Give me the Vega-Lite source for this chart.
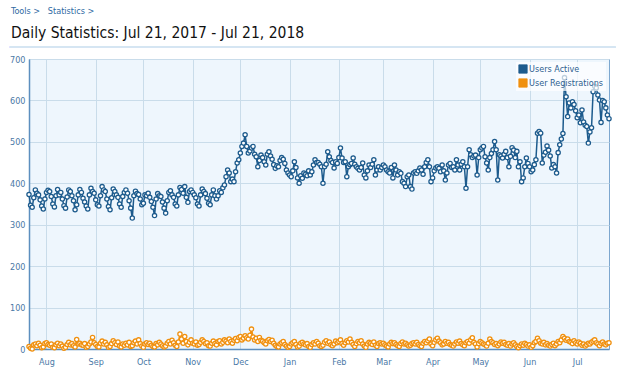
{
"$schema":"https://vega.github.io/schema/vega-lite/v6.json",
"width":580,"height":290,
"autosize":{"type":"none"},
"padding":{"left":29,"top":59,"right":20,"bottom":22},
"background":"#ffffff",
"config":{"view":{"fill":"#eef6fd","stroke":"#7da7cf","strokeWidth":1},"font":"Liberation Sans"},
"title":{"text":"Tools >\u00a0\u00a0 Statistics >","subtitle":"Daily Statistics: Jul 21, 2017 - Jul 21, 2018","anchor":"start","frame":"group","dx":-18,"offset":5,"fontSize":9,"fontWeight":"normal","color":"#2f6aa3","font":"DejaVu Sans Condensed, Liberation Sans","subtitleFont":"DejaVu Sans Condensed, Liberation Sans","subtitleFontSize":15.5,"subtitleColor":"#111111","subtitlePadding":10},
"data":{"values":[
{"d":"2017-07-21","a":373,"r":6},{"d":"2017-07-22","a":347,"r":2},{"d":"2017-07-23","a":342,"r":0},{"d":"2017-07-24","a":365,"r":10},{"d":"2017-07-25","a":384,"r":12},{"d":"2017-07-26","a":376,"r":8},{"d":"2017-07-27","a":372,"r":14},{"d":"2017-07-28","a":360,"r":9},{"d":"2017-07-29","a":345,"r":3},{"d":"2017-07-30","a":338,"r":5},{"d":"2017-07-31","a":362,"r":13},
{"d":"2017-08-01","a":378,"r":15},{"d":"2017-08-02","a":383,"r":11},{"d":"2017-08-03","a":380,"r":9},{"d":"2017-08-04","a":368,"r":12},{"d":"2017-08-05","a":350,"r":4},{"d":"2017-08-06","a":343,"r":3},{"d":"2017-08-07","a":370,"r":10},{"d":"2017-08-08","a":385,"r":14},{"d":"2017-08-09","a":372,"r":8},{"d":"2017-08-10","a":378,"r":12},{"d":"2017-08-11","a":362,"r":7},{"d":"2017-08-12","a":346,"r":2},{"d":"2017-08-13","a":340,"r":4},{"d":"2017-08-14","a":367,"r":11},{"d":"2017-08-15","a":384,"r":16},{"d":"2017-08-16","a":380,"r":10},{"d":"2017-08-17","a":370,"r":13},{"d":"2017-08-18","a":358,"r":8},{"d":"2017-08-19","a":336,"r":5},{"d":"2017-08-20","a":348,"r":23},{"d":"2017-08-21","a":372,"r":12},{"d":"2017-08-22","a":385,"r":14},{"d":"2017-08-23","a":378,"r":10},{"d":"2017-08-24","a":364,"r":9},{"d":"2017-08-25","a":355,"r":13},{"d":"2017-08-26","a":345,"r":4},{"d":"2017-08-27","a":338,"r":6},{"d":"2017-08-28","a":372,"r":12},{"d":"2017-08-29","a":388,"r":17},{"d":"2017-08-30","a":380,"r":28},{"d":"2017-08-31","a":376,"r":15},
{"d":"2017-09-01","a":360,"r":11},{"d":"2017-09-02","a":348,"r":6},{"d":"2017-09-03","a":345,"r":5},{"d":"2017-09-04","a":370,"r":14},{"d":"2017-09-05","a":392,"r":19},{"d":"2017-09-06","a":384,"r":12},{"d":"2017-09-07","a":380,"r":16},{"d":"2017-09-08","a":362,"r":10},{"d":"2017-09-09","a":344,"r":4},{"d":"2017-09-10","a":336,"r":6},{"d":"2017-09-11","a":365,"r":13},{"d":"2017-09-12","a":386,"r":20},{"d":"2017-09-13","a":380,"r":15},{"d":"2017-09-14","a":372,"r":11},{"d":"2017-09-15","a":366,"r":17},{"d":"2017-09-16","a":350,"r":7},{"d":"2017-09-17","a":342,"r":5},{"d":"2017-09-18","a":368,"r":12},{"d":"2017-09-19","a":378,"r":9},{"d":"2017-09-20","a":384,"r":14},{"d":"2017-09-21","a":376,"r":10},{"d":"2017-09-22","a":358,"r":16},{"d":"2017-09-23","a":340,"r":6},{"d":"2017-09-24","a":316,"r":8},{"d":"2017-09-25","a":370,"r":15},{"d":"2017-09-26","a":381,"r":19},{"d":"2017-09-27","a":375,"r":12},{"d":"2017-09-28","a":373,"r":22},{"d":"2017-09-29","a":362,"r":13},{"d":"2017-09-30","a":348,"r":7},
{"d":"2017-10-01","a":352,"r":4},{"d":"2017-10-02","a":372,"r":12},{"d":"2017-10-03","a":370,"r":15},{"d":"2017-10-04","a":376,"r":11},{"d":"2017-10-05","a":366,"r":14},{"d":"2017-10-06","a":356,"r":9},{"d":"2017-10-07","a":342,"r":6},{"d":"2017-10-08","a":322,"r":5},{"d":"2017-10-09","a":362,"r":13},{"d":"2017-10-10","a":375,"r":10},{"d":"2017-10-11","a":370,"r":16},{"d":"2017-10-12","a":368,"r":12},{"d":"2017-10-13","a":355,"r":8},{"d":"2017-10-14","a":340,"r":5},{"d":"2017-10-15","a":328,"r":7},{"d":"2017-10-16","a":358,"r":14},{"d":"2017-10-17","a":378,"r":18},{"d":"2017-10-18","a":382,"r":12},{"d":"2017-10-19","a":372,"r":21},{"d":"2017-10-20","a":366,"r":15},{"d":"2017-10-21","a":350,"r":9},{"d":"2017-10-22","a":345,"r":6},{"d":"2017-10-23","a":372,"r":17},{"d":"2017-10-24","a":390,"r":36},{"d":"2017-10-25","a":385,"r":24},{"d":"2017-10-26","a":376,"r":14},{"d":"2017-10-27","a":392,"r":30},{"d":"2017-10-28","a":366,"r":18},{"d":"2017-10-29","a":354,"r":10},{"d":"2017-10-30","a":380,"r":16},{"d":"2017-10-31","a":384,"r":22},
{"d":"2017-11-01","a":378,"r":14},{"d":"2017-11-02","a":372,"r":12},{"d":"2017-11-03","a":365,"r":17},{"d":"2017-11-04","a":350,"r":9},{"d":"2017-11-05","a":345,"r":11},{"d":"2017-11-06","a":372,"r":16},{"d":"2017-11-07","a":386,"r":22},{"d":"2017-11-08","a":380,"r":18},{"d":"2017-11-09","a":375,"r":13},{"d":"2017-11-10","a":364,"r":15},{"d":"2017-11-11","a":352,"r":8},{"d":"2017-11-12","a":348,"r":7},{"d":"2017-11-13","a":372,"r":14},{"d":"2017-11-14","a":384,"r":19},{"d":"2017-11-15","a":370,"r":13},{"d":"2017-11-16","a":362,"r":10},{"d":"2017-11-17","a":370,"r":18},{"d":"2017-11-18","a":382,"r":20},{"d":"2017-11-19","a":378,"r":12},{"d":"2017-11-20","a":389,"r":16},{"d":"2017-11-21","a":396,"r":22},{"d":"2017-11-22","a":416,"r":19},{"d":"2017-11-23","a":432,"r":15},{"d":"2017-11-24","a":425,"r":24},{"d":"2017-11-25","a":404,"r":18},{"d":"2017-11-26","a":410,"r":14},{"d":"2017-11-27","a":404,"r":21},{"d":"2017-11-28","a":428,"r":25},{"d":"2017-11-29","a":449,"r":20},{"d":"2017-11-30","a":457,"r":28},
{"d":"2017-12-01","a":473,"r":30},{"d":"2017-12-02","a":489,"r":22},{"d":"2017-12-03","a":497,"r":26},{"d":"2017-12-04","a":517,"r":32},{"d":"2017-12-05","a":489,"r":27},{"d":"2017-12-06","a":473,"r":24},{"d":"2017-12-07","a":478,"r":33},{"d":"2017-12-08","a":485,"r":48},{"d":"2017-12-09","a":489,"r":29},{"d":"2017-12-10","a":470,"r":22},{"d":"2017-12-11","a":464,"r":26},{"d":"2017-12-12","a":440,"r":18},{"d":"2017-12-13","a":455,"r":28},{"d":"2017-12-14","a":468,"r":21},{"d":"2017-12-15","a":462,"r":19},{"d":"2017-12-16","a":452,"r":15},{"d":"2017-12-17","a":444,"r":12},{"d":"2017-12-18","a":470,"r":20},{"d":"2017-12-19","a":476,"r":23},{"d":"2017-12-20","a":466,"r":18},{"d":"2017-12-21","a":458,"r":21},{"d":"2017-12-22","a":445,"r":14},{"d":"2017-12-23","a":436,"r":9},{"d":"2017-12-24","a":442,"r":6},{"d":"2017-12-25","a":440,"r":5},{"d":"2017-12-26","a":455,"r":12},{"d":"2017-12-27","a":462,"r":15},{"d":"2017-12-28","a":458,"r":18},{"d":"2017-12-29","a":448,"r":11},{"d":"2017-12-30","a":432,"r":7},{"d":"2017-12-31","a":425,"r":4},
{"d":"2018-01-01","a":420,"r":6},{"d":"2018-01-02","a":416,"r":12},{"d":"2018-01-03","a":430,"r":15},{"d":"2018-01-04","a":452,"r":18},{"d":"2018-01-05","a":438,"r":11},{"d":"2018-01-06","a":413,"r":5},{"d":"2018-01-07","a":400,"r":7},{"d":"2018-01-08","a":418,"r":14},{"d":"2018-01-09","a":412,"r":16},{"d":"2018-01-10","a":425,"r":12},{"d":"2018-01-11","a":422,"r":10},{"d":"2018-01-12","a":418,"r":13},{"d":"2018-01-13","a":430,"r":6},{"d":"2018-01-14","a":420,"r":4},{"d":"2018-01-15","a":428,"r":11},{"d":"2018-01-16","a":444,"r":15},{"d":"2018-01-17","a":457,"r":12},{"d":"2018-01-18","a":450,"r":18},{"d":"2018-01-19","a":450,"r":14},{"d":"2018-01-20","a":446,"r":8},{"d":"2018-01-21","a":440,"r":6},{"d":"2018-01-22","a":400,"r":9},{"d":"2018-01-23","a":440,"r":16},{"d":"2018-01-24","a":446,"r":20},{"d":"2018-01-25","a":476,"r":14},{"d":"2018-01-26","a":464,"r":17},{"d":"2018-01-27","a":455,"r":10},{"d":"2018-01-28","a":450,"r":8},{"d":"2018-01-29","a":437,"r":12},{"d":"2018-01-30","a":452,"r":19},{"d":"2018-01-31","a":448,"r":15},
{"d":"2018-02-01","a":462,"r":18},{"d":"2018-02-02","a":485,"r":22},{"d":"2018-02-03","a":461,"r":13},{"d":"2018-02-04","a":450,"r":9},{"d":"2018-02-05","a":452,"r":15},{"d":"2018-02-06","a":416,"r":20},{"d":"2018-02-07","a":440,"r":17},{"d":"2018-02-08","a":445,"r":24},{"d":"2018-02-09","a":448,"r":16},{"d":"2018-02-10","a":461,"r":11},{"d":"2018-02-11","a":446,"r":6},{"d":"2018-02-12","a":440,"r":13},{"d":"2018-02-13","a":436,"r":18},{"d":"2018-02-14","a":432,"r":15},{"d":"2018-02-15","a":438,"r":20},{"d":"2018-02-16","a":449,"r":12},{"d":"2018-02-17","a":420,"r":7},{"d":"2018-02-18","a":413,"r":4},{"d":"2018-02-19","a":430,"r":12},{"d":"2018-02-20","a":444,"r":16},{"d":"2018-02-21","a":438,"r":14},{"d":"2018-02-22","a":446,"r":11},{"d":"2018-02-23","a":457,"r":17},{"d":"2018-02-24","a":420,"r":9},{"d":"2018-02-25","a":432,"r":6},{"d":"2018-02-26","a":440,"r":13},{"d":"2018-02-27","a":432,"r":15},{"d":"2018-02-28","a":438,"r":12},
{"d":"2018-03-01","a":444,"r":14},{"d":"2018-03-02","a":440,"r":10},{"d":"2018-03-03","a":432,"r":7},{"d":"2018-03-04","a":428,"r":5},{"d":"2018-03-05","a":425,"r":12},{"d":"2018-03-06","a":438,"r":16},{"d":"2018-03-07","a":413,"r":13},{"d":"2018-03-08","a":444,"r":15},{"d":"2018-03-09","a":432,"r":11},{"d":"2018-03-10","a":420,"r":8},{"d":"2018-03-11","a":428,"r":6},{"d":"2018-03-12","a":424,"r":13},{"d":"2018-03-13","a":404,"r":17},{"d":"2018-03-14","a":400,"r":12},{"d":"2018-03-15","a":392,"r":14},{"d":"2018-03-16","a":416,"r":10},{"d":"2018-03-17","a":420,"r":7},{"d":"2018-03-18","a":392,"r":9},{"d":"2018-03-19","a":386,"r":13},{"d":"2018-03-20","a":425,"r":15},{"d":"2018-03-21","a":428,"r":12},{"d":"2018-03-22","a":424,"r":16},{"d":"2018-03-23","a":430,"r":11},{"d":"2018-03-24","a":437,"r":8},{"d":"2018-03-25","a":432,"r":6},{"d":"2018-03-26","a":422,"r":14},{"d":"2018-03-27","a":440,"r":18},{"d":"2018-03-28","a":450,"r":15},{"d":"2018-03-29","a":457,"r":20},{"d":"2018-03-30","a":440,"r":24},{"d":"2018-03-31","a":404,"r":12},
{"d":"2018-04-01","a":413,"r":8},{"d":"2018-04-02","a":430,"r":16},{"d":"2018-04-03","a":437,"r":22},{"d":"2018-04-04","a":440,"r":26},{"d":"2018-04-05","a":436,"r":19},{"d":"2018-04-06","a":428,"r":15},{"d":"2018-04-07","a":444,"r":10},{"d":"2018-04-08","a":430,"r":12},{"d":"2018-04-09","a":408,"r":18},{"d":"2018-04-10","a":425,"r":14},{"d":"2018-04-11","a":444,"r":16},{"d":"2018-04-12","a":448,"r":11},{"d":"2018-04-13","a":438,"r":9},{"d":"2018-04-14","a":440,"r":7},{"d":"2018-04-15","a":432,"r":12},{"d":"2018-04-16","a":457,"r":17},{"d":"2018-04-17","a":444,"r":14},{"d":"2018-04-18","a":432,"r":19},{"d":"2018-04-19","a":446,"r":13},{"d":"2018-04-20","a":452,"r":10},{"d":"2018-04-21","a":440,"r":8},{"d":"2018-04-22","a":388,"r":15},{"d":"2018-04-23","a":440,"r":18},{"d":"2018-04-24","a":481,"r":14},{"d":"2018-04-25","a":469,"r":22},{"d":"2018-04-26","a":462,"r":27},{"d":"2018-04-27","a":466,"r":16},{"d":"2018-04-28","a":468,"r":12},{"d":"2018-04-29","a":420,"r":5},{"d":"2018-04-30","a":462,"r":13},
{"d":"2018-05-01","a":481,"r":18},{"d":"2018-05-02","a":485,"r":15},{"d":"2018-05-03","a":489,"r":12},{"d":"2018-05-04","a":464,"r":10},{"d":"2018-05-05","a":449,"r":7},{"d":"2018-05-06","a":432,"r":14},{"d":"2018-05-07","a":462,"r":24},{"d":"2018-05-08","a":472,"r":18},{"d":"2018-05-09","a":481,"r":15},{"d":"2018-05-10","a":501,"r":11},{"d":"2018-05-11","a":481,"r":13},{"d":"2018-05-12","a":408,"r":8},{"d":"2018-05-13","a":469,"r":12},{"d":"2018-05-14","a":466,"r":17},{"d":"2018-05-15","a":461,"r":14},{"d":"2018-05-16","a":470,"r":16},{"d":"2018-05-17","a":477,"r":11},{"d":"2018-05-18","a":462,"r":9},{"d":"2018-05-19","a":440,"r":13},{"d":"2018-05-20","a":465,"r":7},{"d":"2018-05-21","a":486,"r":12},{"d":"2018-05-22","a":480,"r":15},{"d":"2018-05-23","a":462,"r":10},{"d":"2018-05-24","a":477,"r":6},{"d":"2018-05-25","a":440,"r":3},{"d":"2018-05-26","a":452,"r":8},{"d":"2018-05-27","a":404,"r":12},{"d":"2018-05-28","a":413,"r":9},{"d":"2018-05-29","a":440,"r":14},{"d":"2018-05-30","a":461,"r":11},{"d":"2018-05-31","a":448,"r":7},
{"d":"2018-06-01","a":440,"r":10},{"d":"2018-06-02","a":428,"r":4},{"d":"2018-06-03","a":432,"r":8},{"d":"2018-06-04","a":445,"r":15},{"d":"2018-06-05","a":457,"r":18},{"d":"2018-06-06","a":521,"r":26},{"d":"2018-06-07","a":525,"r":20},{"d":"2018-06-08","a":521,"r":14},{"d":"2018-06-09","a":449,"r":12},{"d":"2018-06-10","a":468,"r":16},{"d":"2018-06-11","a":475,"r":10},{"d":"2018-06-12","a":490,"r":13},{"d":"2018-06-13","a":480,"r":9},{"d":"2018-06-14","a":466,"r":7},{"d":"2018-06-15","a":437,"r":11},{"d":"2018-06-16","a":445,"r":14},{"d":"2018-06-17","a":440,"r":8},{"d":"2018-06-18","a":425,"r":12},{"d":"2018-06-19","a":474,"r":18},{"d":"2018-06-20","a":493,"r":15},{"d":"2018-06-21","a":507,"r":22},{"d":"2018-06-22","a":520,"r":30},{"d":"2018-06-23","a":655,"r":26},{"d":"2018-06-24","a":609,"r":21},{"d":"2018-06-25","a":561,"r":24},{"d":"2018-06-26","a":594,"r":18},{"d":"2018-06-27","a":582,"r":16},{"d":"2018-06-28","a":597,"r":13},{"d":"2018-06-29","a":590,"r":20},{"d":"2018-06-30","a":575,"r":15},
{"d":"2018-07-01","a":558,"r":12},{"d":"2018-07-02","a":565,"r":17},{"d":"2018-07-03","a":546,"r":14},{"d":"2018-07-04","a":577,"r":9},{"d":"2018-07-05","a":548,"r":12},{"d":"2018-07-06","a":540,"r":7},{"d":"2018-07-07","a":537,"r":10},{"d":"2018-07-08","a":497,"r":14},{"d":"2018-07-09","a":524,"r":12},{"d":"2018-07-10","a":534,"r":16},{"d":"2018-07-11","a":621,"r":19},{"d":"2018-07-12","a":634,"r":22},{"d":"2018-07-13","a":630,"r":15},{"d":"2018-07-14","a":613,"r":12},{"d":"2018-07-15","a":601,"r":8},{"d":"2018-07-16","a":547,"r":14},{"d":"2018-07-17","a":600,"r":17},{"d":"2018-07-18","a":597,"r":12},{"d":"2018-07-19","a":582,"r":10},{"d":"2018-07-20","a":565,"r":14},{"d":"2018-07-21","a":556,"r":15}
]},
"encoding":{
"x":{"field":"d","type":"temporal","title":null,
"scale":{"type":"utc","domain":[{"year":2017,"month":"jul","date":21,"utc":true},{"year":2018,"month":"jul","date":21,"utc":true}]},
"axis":{"labelExpr":"utcFormat(datum.value, '%b')","tickCount":{"interval":"month","step":1},"grid":true,"gridColor":"#c9dcea","ticks":false,"domainColor":"#5d8fbf","domainWidth":1.5,"labelFontSize":9,"labelColor":"#4a78a6","labelPadding":8,"labelFont":"DejaVu Sans Condensed, Liberation Sans","labelFlush":false}}
},
"layer":[
{"mark":{"type":"rule","clip":false,"color":"#d5e5f2","strokeWidth":1},"encoding":{"x":{"datum":{"year":2017,"month":"jul","date":9,"utc":true}},"x2":{"datum":{"year":2018,"month":"jul","date":25,"utc":true}},"y":{"datum":729}}},
{"mark":{"type":"line","strokeWidth":1.5,"point":{"filled":false,"fill":"#ffffff","size":18,"strokeWidth":1.3}},
"encoding":{"y":{"field":"a","type":"quantitative","title":null,
"scale":{"domain":[0,700],"nice":false},
"axis":{"values":[0,100,200,300,400,500,600,700],"grid":true,"gridColor":"#c9dcea","ticks":false,"domainColor":"#5d8fbf","domainWidth":1.5,"labelFontSize":9,"labelColor":"#4a78a6","labelPadding":4,"labelFont":"DejaVu Sans Condensed, Liberation Sans"}},
"color":{"datum":"Users Active","type":"nominal","scale":{"domain":["Users Active","User Registrations"],"range":["#1d5b8d","#f0900f"]},
"legend":{"title":null,"orient":"top-right","offset":3,"padding":2,"fillColor":"rgba(255,255,255,0.7)","symbolType":"square","symbolSize":70,"labelFontSize":9,"labelColor":"#2f5f90","labelFont":"DejaVu Sans Condensed, Liberation Sans","rowPadding":2,"symbolOffset":0,"labelOffset":1,
"encode":{"symbols":{"update":{"fill":{"scale":"color","field":"value"},"stroke":{"value":"#7fa8cc"},"strokeWidth":{"value":0.8},"opacity":{"value":1}}}}}}}},
{"mark":{"type":"line","strokeWidth":1.5,"point":{"filled":false,"fill":"#ffffff","size":18,"strokeWidth":1.3}},
"encoding":{"y":{"field":"r","type":"quantitative"},
"color":{"datum":"User Registrations","type":"nominal"}}}
]
}
